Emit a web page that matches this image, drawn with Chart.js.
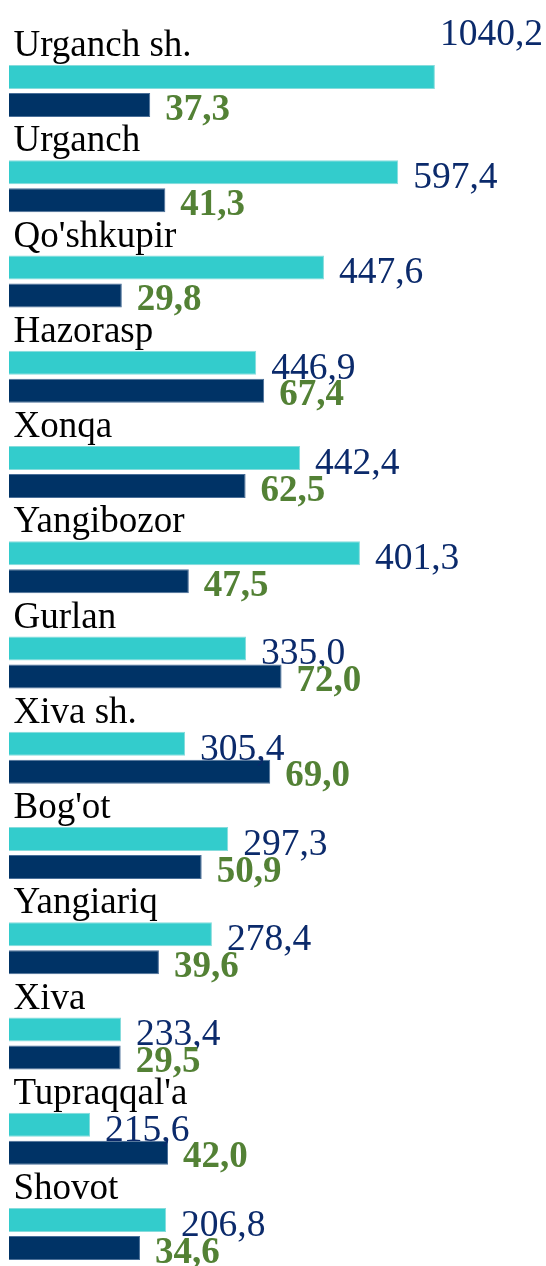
<!DOCTYPE html>
<html><head><meta charset="utf-8">
<script src="https://cdn.jsdelivr.net/npm/chart.js@4.4.1/dist/chart.umd.min.js"></script>
<style>
html,body{margin:0;padding:0;background:#fff;overflow:hidden;width:546px;height:1266px;}
#clip{width:546px;height:1266px;overflow:hidden;position:relative;}
#c{position:absolute;left:0;top:0;}
</style></head><body>
<div id="clip"><canvas id="c" width="546" height="1320"></canvas></div>
<script>
// Categories (districts)
const categories = ["Urganch sh.", "Urganch", "Qo'shkupir", "Hazorasp", "Xonqa", "Yangibozor", "Gurlan", "Xiva sh.", "Bog'ot", "Yangiariq", "Xiva", "Tupraqqal'a", "Shovot"];

// First series: printed values, and bar lengths as drawn in the picture (read on the same axis as the second series)
const cyanValues = [1040.2, 597.4, 447.6, 446.9, 442.4, 401.3, 335.0, 305.4, 297.3, 278.4, 233.4, 215.6, 206.8];
const cyanBarLengths = [112.5, 102.8, 83.2, 65.3, 76.9, 92.7, 62.6, 46.5, 57.9, 53.6, 29.6, 21.4, 41.5];

// Second series: values (bars are proportional to these)
const navyValues = [37.3, 41.3, 29.8, 67.4, 62.5, 47.5, 72.0, 69.0, 50.9, 39.6, 29.5, 42.0, 34.6];

const fmt = v => v.toFixed(1).replace('.', ',');
const cyanLabels = cyanValues.map(fmt);
const navyLabels = navyValues.map(fmt);

const SERIF = '"Liberation Serif", "Times New Roman", serif';

const valueLabelPlugin = {
  id: 'valueLabels',
  afterDatasetsDraw(chart) {
    const ctx = chart.ctx;
    const styles = [
      {labels: cyanLabels, font: '37.5px ' + SERIF, color: '#0b2a6b', dy: 6},
      {labels: navyLabels, font: 'bold 37px ' + SERIF, color: '#538135', dy: 5}
    ];
    chart.data.datasets.forEach((ds, di) => {
      const meta = chart.getDatasetMeta(di);
      const s = styles[di];
      ctx.save();
      ctx.font = s.font;
      ctx.fillStyle = s.color;
      ctx.textBaseline = 'middle';
      meta.data.forEach((bar, i) => {
        const text = s.labels[i];
        const w = ctx.measureText(text).width;
        let x = bar.x + 15, y = bar.y + s.dy, align = 'left';
        if (x + w > chart.width) { x = chart.width - 3; y = bar.y - 42; align = 'right'; }
        ctx.textAlign = align;
        ctx.fillText(text, x, y);
      });
      ctx.restore();
    });
  }
};

new Chart(document.getElementById('c'), {
  type: 'bar',
  data: {
    labels: categories,
    datasets: [
      {data: cyanBarLengths, backgroundColor: '#33CCCC', borderColor: '#86dcdc', borderWidth: 1,
       categoryPercentage: 0.588, barPercentage: 0.857},
      {data: navyValues, backgroundColor: '#003366', borderColor: '#4a6f98', borderWidth: 1,
       categoryPercentage: 0.588, barPercentage: 0.857}
    ]
  },
  options: {
    indexAxis: 'y',
    responsive: false,
    animation: false,
    events: [],
    layout: {padding: {top: 43.4, bottom: 38.4, left: 0, right: 7}},
    plugins: {legend: {display: false}, tooltip: {enabled: false}, title: {display: false}},
    scales: {
      x: {display: false, min: 0, max: 140},
      y: {
        z: 1,
        grid: {display: false, drawTicks: false},
        border: {display: false},
        ticks: {
          mirror: true,
          padding: 4.5,
          labelOffset: -44.5,
          color: '#000',
          font: {family: SERIF, size: 37}
        }
      }
    }
  },
  plugins: [valueLabelPlugin]
});
</script>
</body></html>
